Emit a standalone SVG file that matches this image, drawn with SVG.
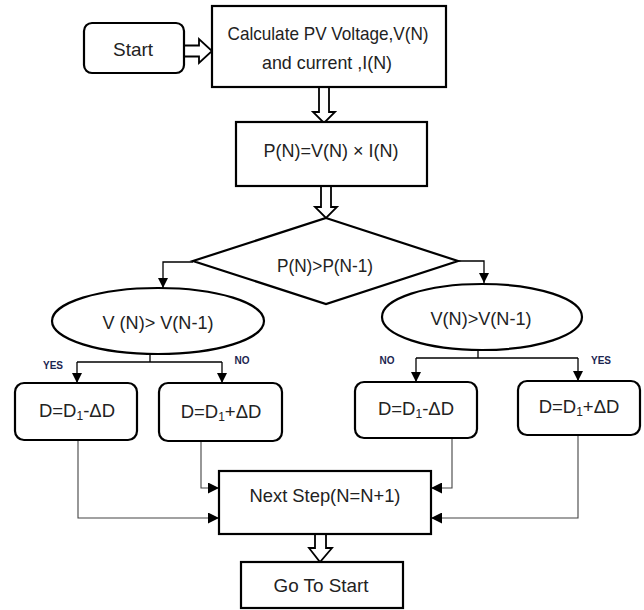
<svg xmlns="http://www.w3.org/2000/svg" width="644" height="610" viewBox="0 0 644 610">
<defs>
<style>
.box{fill:#fff;stroke:#000;stroke-width:2.2}
.t{font-family:"Liberation Sans",Arial,sans-serif;font-size:18.5px;fill:#222;text-anchor:middle}
.lab{font-family:"Liberation Sans",Arial,sans-serif;font-size:10px;font-weight:bold;fill:#1b2550;text-anchor:middle}
.c{fill:none;stroke:#000;stroke-width:1.3}
.c2{fill:none;stroke:#444;stroke-width:1.1}
.hollow{fill:#fff;stroke:#000;stroke-width:1.8;stroke-linejoin:miter}
</style>
<marker id="ah" viewBox="0 0 10 10" refX="10" refY="5" markerWidth="10" markerHeight="10" markerUnits="userSpaceOnUse" orient="auto">
<path d="M0,0 L10,5 L0,10 Z" fill="#000"/>
</marker>
<marker id="ah2" viewBox="0 0 10 10" refX="10" refY="5" markerWidth="11" markerHeight="11" markerUnits="userSpaceOnUse" orient="auto">
<path d="M0,0 L10,5 L0,10 Z" fill="#000"/>
</marker>
</defs>
<rect width="644" height="610" fill="#fff"/>

<g id="connectors">
<path class="hollow" d="M184,45.5 L199,45.5 L199,39 L212,51 L199,63 L199,56.5 L184,56.5"/>
<path class="hollow" d="M319,87 L319,112 L313,112 L324,123 L335,112 L329,112 L329,87"/>
<path class="hollow" d="M321,186 L321,207 L315,207 L326,218 L337,207 L331,207 L331,186"/>
<path class="hollow" d="M315,534 L315,548 L309,548 L320,562 L332,548 L326,548 L326,534"/>
<path class="c" d="M193,262 L163,262 L163,288" marker-end="url(#ah)"/>
<path class="c" d="M458,261 L484,261 L484,283" marker-end="url(#ah)"/>
<path class="c" d="M150,354 L150,362"/>
<path class="c" d="M77,362 L222,362"/>
<path class="c" d="M77,362 L77,383" marker-end="url(#ah)"/>
<path class="c" d="M222,362 L222,383" marker-end="url(#ah)"/>
<path class="c" d="M478,350 L478,358"/>
<path class="c" d="M416,358 L578,358"/>
<path class="c" d="M416,358 L416,382" marker-end="url(#ah)"/>
<path class="c" d="M578,358 L578,381" marker-end="url(#ah)"/>
<path class="c2" d="M78,440 L78,518 L219,518" marker-end="url(#ah2)"/>
<path class="c2" d="M201,441 L201,488 L219,488" marker-end="url(#ah2)"/>
<path class="c2" d="M452,438 L452,488 L431,488" marker-end="url(#ah2)"/>
<path class="c2" d="M578,435 L578,518 L431,518" marker-end="url(#ah2)"/>
</g>

<g id="start">
<rect class="box" x="84" y="23" width="100" height="50" rx="8"/>
<text class="t" x="133" y="56" textLength="40" lengthAdjust="spacingAndGlyphs">Start</text>
</g>
<g id="calc">
<rect class="box" x="212" y="6" width="234" height="81"/>
<text class="t" x="328" y="40" textLength="201" lengthAdjust="spacingAndGlyphs">Calculate PV Voltage,V(N)</text>
<text class="t" x="327" y="69" textLength="130" lengthAdjust="spacingAndGlyphs">and current ,I(N)</text>
</g>
<g id="power">
<rect class="box" x="236" y="122" width="191" height="64"/>
<text class="t" x="331" y="157" textLength="135" lengthAdjust="spacingAndGlyphs">P(N)=V(N) × I(N)</text>
</g>
<g id="decision">
<polygon class="box" points="326,218 458,261 326,304 193,261"/>
<text class="t" x="325" y="272" textLength="96" lengthAdjust="spacingAndGlyphs">P(N)&gt;P(N-1)</text>
</g>
<g id="vleft">
<ellipse class="box" cx="158" cy="321" rx="106" ry="33"/>
<text class="t" x="158" y="329" textLength="111" lengthAdjust="spacingAndGlyphs">V (N)&gt; V(N-1)</text>
</g>
<g id="vright">
<ellipse class="box" cx="482" cy="317" rx="100" ry="33"/>
<text class="t" x="481" y="325" textLength="101" lengthAdjust="spacingAndGlyphs">V(N)&gt;V(N-1)</text>
</g>
<g id="labels">
<text class="lab" x="53" y="369">YES</text>
<text class="lab" x="242" y="364">NO</text>
<text class="lab" x="387" y="364">NO</text>
<text class="lab" x="601" y="364">YES</text>
</g>
<g id="d1">
<rect class="box" x="15" y="383" width="122" height="57" rx="9"/>
<text class="t" x="77" y="417">D=D<tspan font-size="12" dy="3">1</tspan><tspan dy="-3">-ΔD</tspan></text>
</g>
<g id="d2">
<rect class="box" x="159" y="383" width="123" height="58" rx="9"/>
<text class="t" x="221" y="418">D=D<tspan font-size="12" dy="3">1</tspan><tspan dy="-3">+ΔD</tspan></text>
</g>
<g id="d3">
<rect class="box" x="355" y="382" width="122" height="56" rx="9"/>
<text class="t" x="416" y="415">D=D<tspan font-size="12" dy="3">1</tspan><tspan dy="-3">-ΔD</tspan></text>
</g>
<g id="d4">
<rect class="box" x="518" y="381" width="122" height="54" rx="9"/>
<text class="t" x="579" y="413">D=D<tspan font-size="12" dy="3">1</tspan><tspan dy="-3">+ΔD</tspan></text>
</g>
<g id="next">
<rect class="box" x="219" y="471" width="212" height="63"/>
<text class="t" x="325" y="502" textLength="151" lengthAdjust="spacingAndGlyphs">Next Step(N=N+1)</text>
</g>
<g id="goto">
<rect class="box" x="241" y="562" width="162" height="46"/>
<text class="t" x="321" y="592" textLength="95" lengthAdjust="spacingAndGlyphs">Go To Start</text>
</g>
</svg>
